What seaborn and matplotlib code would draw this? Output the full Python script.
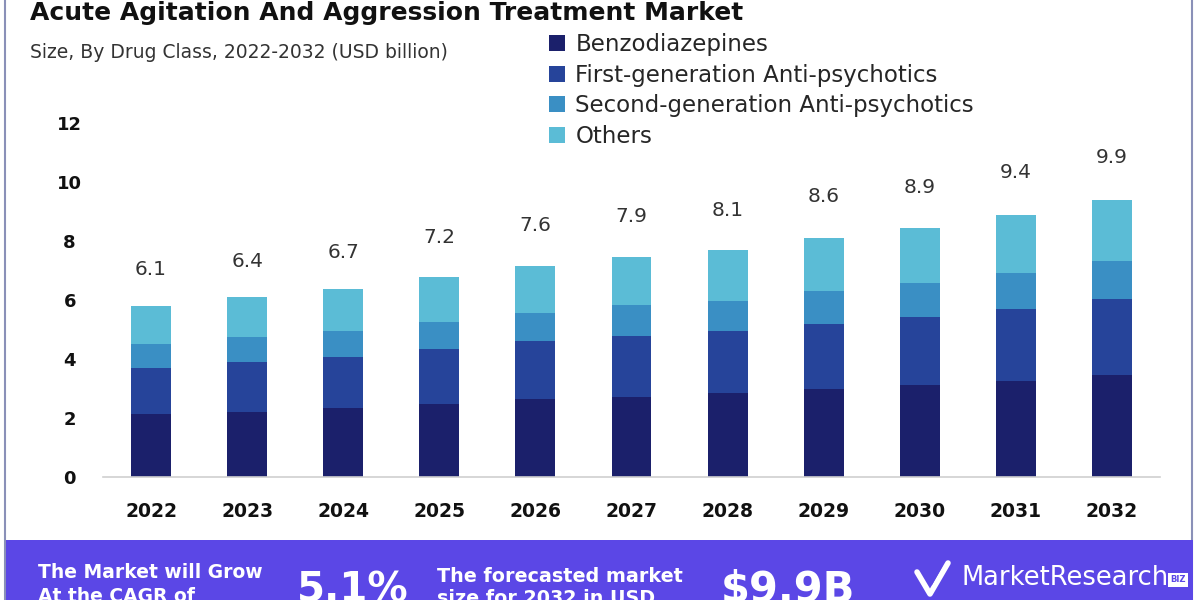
import matplotlib
matplotlib.use("Agg")
import matplotlib.pyplot as plt
import pandas as pd
import seaborn as sns
from matplotlib.patches import Patch, Rectangle
from matplotlib.lines import Line2D

years = ["2022", "2023", "2024", "2025", "2026", "2027", "2028", "2029", "2030", "2031", "2032"]
benzodiazepines = [2.14, 2.20, 2.34, 2.47, 2.64, 2.71, 2.85, 2.98, 3.12, 3.25, 3.46]
first_gen = [1.55, 1.70, 1.73, 1.87, 1.97, 2.07, 2.10, 2.21, 2.30, 2.44, 2.57]
second_gen = [0.82, 0.85, 0.88, 0.91, 0.95, 1.05, 1.02, 1.12, 1.16, 1.23, 1.29]
others = [1.29, 1.35, 1.42, 1.53, 1.59, 1.63, 1.72, 1.79, 1.86, 1.96, 2.07]
market_totals = [6.1, 6.4, 6.7, 7.2, 7.6, 7.9, 8.1, 8.6, 8.9, 9.4, 9.9]

segments = ["Benzodiazepines", "First-generation Anti-psychotics",
            "Second-generation Anti-psychotics", "Others"]
colors = ["#1b206b", "#26449a", "#3a8fc4", "#5bbcd6"]

W, H = 1200, 600


def fx(x):
    return x / W


def fy(y):
    return 1 - y / H


df = pd.DataFrame({
    "year": years,
    segments[0]: benzodiazepines,
    segments[1]: first_gen,
    segments[2]: second_gen,
    segments[3]: others,
})
# cumulative heights, drawn from the tallest down so they read as stacks
cum = df[segments].cumsum(axis=1)

sns.set_theme(style="white")
plt.rcParams["font.family"] = ["DejaVu Sans"]

fig = plt.figure(figsize=(12, 6), dpi=100)
ax = fig.add_axes([fx(103), fy(477), fx(1160) - fx(103), fy(123) - fy(477)])

for seg, color in reversed(list(zip(segments, colors))):
    sns.barplot(x=df["year"], y=cum[seg], color=color, width=0.415,
                saturation=1, linewidth=0, ax=ax, zorder=2)

# the total labels float above the bars, at the level of their own value
for i, v in enumerate(market_totals):
    ax.annotate(f"{v:.1f}", (i, v), xytext=(0, 19.5), textcoords="offset points",
                ha="center", va="center", fontsize=14.5, color="#333333",
                annotation_clip=False)

ax.set_ylim(0, 12)
ax.set_xlim(-0.5, 10.5)
ax.set_yticks([0, 2, 4, 6, 8, 10, 12])
ax.set_xlabel("")
ax.set_ylabel("")
for s in ["top", "right", "left"]:
    ax.spines[s].set_visible(False)
ax.spines["bottom"].set_color("#d0d0d0")
ax.spines["bottom"].set_linewidth(1.2)
ax.tick_params(axis="y", length=0, pad=24, labelsize=13)
ax.tick_params(axis="x", length=0, pad=18, labelsize=13.5)
for lab in ax.get_yticklabels():
    lab.set_fontweight("bold")
    lab.set_horizontalalignment("center")
    lab.set_color("#111111")
for lab in ax.get_xticklabels():
    lab.set_fontweight("bold")
    lab.set_color("#111111")

# title and subtitle
fig.text(fx(30), fy(13), "Acute Agitation And Aggression Treatment Market",
         fontsize=18, fontweight="bold", color="#111111", va="center", ha="left")
fig.text(fx(30), fy(52), "Size, By Drug Class, 2022-2032 (USD billion)",
         fontsize=13.5, color="#333333", va="center", ha="left")

handles = [Patch(facecolor=c, edgecolor="none") for c in colors]
fig.legend(handles, segments, loc="upper left", bbox_to_anchor=(fx(549), fy(33)),
           frameon=False, fontsize=16.5, handlelength=0.7, handleheight=0.7,
           handletextpad=0.45, labelspacing=0.33, borderaxespad=0, borderpad=0)

# outer frame
fig.patches.append(Rectangle((fx(5), fy(600)), fx(1192) - fx(5), 1.02, transform=fig.transFigure,
                             fill=False, edgecolor="#8a90b8", linewidth=1.5, zorder=0))

# bottom banner
fig.patches.append(Rectangle((fx(6), 0), fx(1193) - fx(6), fy(540), transform=fig.transFigure,
                             facecolor="#5b47e6", edgecolor="none", zorder=1))
fig.text(fx(38), fy(572), "The Market will Grow", fontsize=13.5, fontweight="bold",
         color="white", va="center", ha="left", zorder=3)
fig.text(fx(38), fy(596), "At the CAGR of", fontsize=13.5, fontweight="bold",
         color="white", va="center", ha="left", zorder=3)
fig.text(fx(297), fy(590), "5.1%", fontsize=29, fontweight="bold",
         color="white", va="center", ha="left", zorder=3)
fig.text(fx(437), fy(576), "The forecasted market", fontsize=13.8, fontweight="bold",
         color="white", va="center", ha="left", zorder=3)
fig.text(fx(437), fy(599), "size for 2032 in USD", fontsize=13.8, fontweight="bold",
         color="white", va="center", ha="left", zorder=3)
fig.text(fx(721), fy(590), "$9.9B", fontsize=30, fontweight="bold",
         color="white", va="center", ha="left", zorder=3)

# logo check mark
fig.lines.append(Line2D([fx(917), fx(930), fx(948)], [fy(572), fy(594), fy(563)],
                        transform=fig.transFigure, color="white", linewidth=4, zorder=3))
fig.lines.append(Line2D([fx(925), fx(931), fx(941)], [fy(572), fy(584), fy(566)],
                        transform=fig.transFigure, color="#5b47e6", linewidth=2, zorder=4))
fig.text(fx(961), fy(578), "MarketResearch", fontsize=18.5, color="white",
         va="center", ha="left", zorder=3)
fig.text(fx(1178), fy(580), "BIZ", fontsize=6, fontweight="bold", color="#5b47e6",
         va="center", ha="center", zorder=4,
         bbox=dict(boxstyle="square,pad=0.25", facecolor="white", edgecolor="none"))

fig.savefig("out.png", dpi=100, facecolor="white")
